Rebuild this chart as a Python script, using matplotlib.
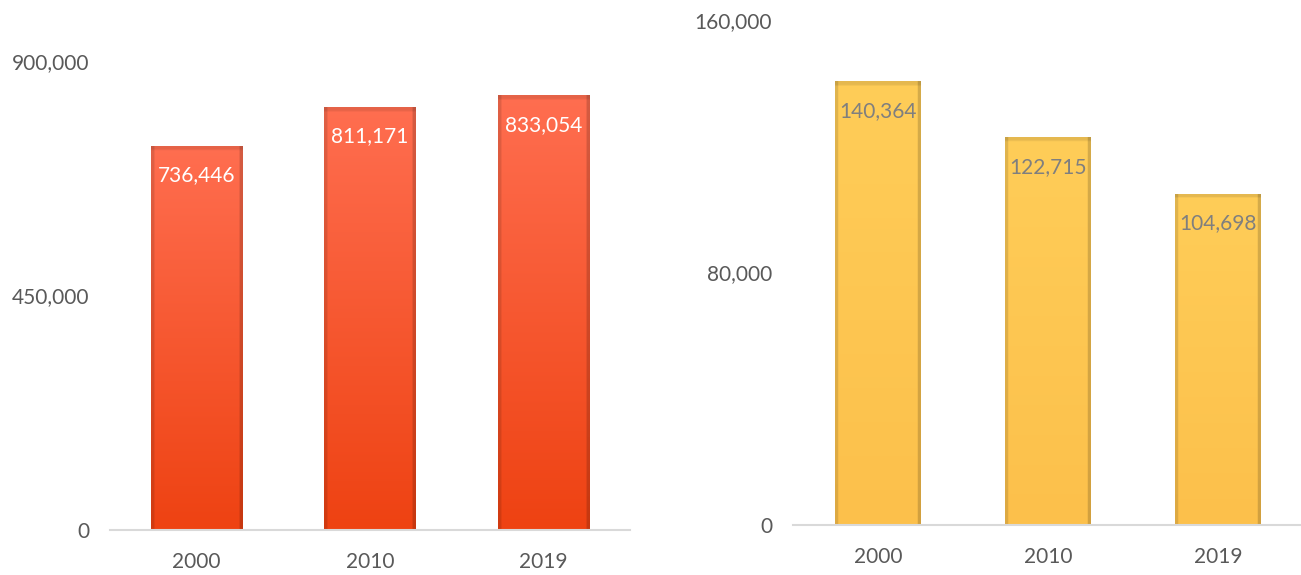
import numpy as np
import matplotlib
matplotlib.use("Agg")
import matplotlib.pyplot as plt
from matplotlib.ticker import FuncFormatter

plt.rcParams["font.family"] = ["Lato", "DejaVu Sans"]

years = ["2000", "2010", "2019"]
left_values = [736446, 811171, 833054]
right_values = [140364, 122715, 104698]
left_ticks = [0, 450000, 900000]
right_ticks = [0, 80000, 160000]

GRAY = "#595959"


def bevel_image(top_rgb, bottom_rgb, edge_dark=0.88, n=200):
    # vertical gradient plus slightly darker sides, like an Office bevel
    top = np.array(top_rgb) / 255.0
    bot = np.array(bottom_rgb) / 255.0
    t = np.linspace(0, 1, n)[:, None, None]
    img = top * (1 - t) + bot * t
    img = np.repeat(img, 80, axis=1)
    xs = np.linspace(0, 1, 80)
    side = np.ones(80)
    side[xs < 0.035] = edge_dark
    side[xs > 0.965] = edge_dark * 0.95
    img = img * side[None, :, None]
    img[:2] = img[:2] * 0.9
    return np.clip(img, 0, 1)


def draw_panel(ax, values, ticks, top_rgb, bottom_rgb, label_color, width):
    x = np.arange(len(years))
    bars = ax.bar(x, values, width=width, color="none", edgecolor="none", zorder=3)
    img = bevel_image(top_rgb, bottom_rgb)
    for b in bars:
        x0, y0 = b.get_x(), b.get_y()
        ax.imshow(img, extent=(x0, x0 + b.get_width(), y0, y0 + b.get_height()),
                  aspect="auto", zorder=2, interpolation="bilinear")
    ax.set_xlim(-0.5, len(years) - 0.5)
    ax.set_ylim(ticks[0], ticks[-1])
    ax.set_yticks(ticks)
    ax.yaxis.set_major_formatter(FuncFormatter(lambda v, p: f"{int(v):,}"))
    ax.set_xticks(x)
    ax.set_xticklabels(years)
    ax.tick_params(axis="both", length=0, labelsize=15, colors=GRAY)
    ax.tick_params(axis="y", pad=15)
    ax.tick_params(axis="x", pad=16)
    for s in ["top", "right", "left"]:
        ax.spines[s].set_visible(False)
    ax.spines["bottom"].set_color("#d9d9d9")
    ax.spines["bottom"].set_linewidth(1.5)
    ax.spines["bottom"].set_zorder(4)
    for xi, v in zip(x, values):
        ax.annotate(f"{v:,}", (xi, v), xytext=(0, -29), textcoords="offset pixels",
                    ha="center", va="center", fontsize=15, color=label_color, zorder=5)


fig = plt.figure(figsize=(13.01, 5.75), dpi=100)
ax1 = fig.add_axes([0.0845, 0.0783, 0.400, 0.8157])
ax2 = fig.add_axes([0.6095, 0.0870, 0.392, 0.8783])

draw_panel(ax1, left_values, left_ticks, (255, 110, 80), (238, 66, 18), "white", 0.53)
draw_panel(ax2, right_values, right_ticks, (255, 205, 88), (252, 192, 75), "#7f7f7f", 0.505)

fig.savefig("out.png", dpi=100)
